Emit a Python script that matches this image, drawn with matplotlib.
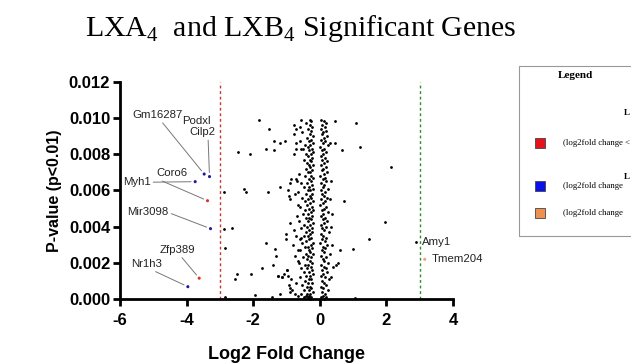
import matplotlib
matplotlib.use("Agg")
import matplotlib.pyplot as plt
from matplotlib.patches import Rectangle

plt.rcParams["font.family"] = ["Liberation Sans", "DejaVu Sans"]
plt.rcParams["mathtext.fontset"] = "custom"
plt.rcParams["mathtext.rm"] = "Liberation Serif"
plt.rcParams["axes.unicode_minus"] = False

# non-significant genes (black)
left_col = [
    (-0.55, 0.0099), (-0.30, 0.0099), (-0.25, 0.0098), (-0.40, 0.0097), (-0.28, 0.0096),
    (-0.58, 0.0095), (-0.22, 0.0095), (-0.35, 0.0094), (-0.27, 0.0093), (-0.52, 0.0092),
    (-0.30, 0.0091), (-0.20, 0.0090), (-0.38, 0.0089), (-0.26, 0.0088), (-0.33, 0.0087),
    (-0.60, 0.0087), (-0.21, 0.0086), (-0.45, 0.0085), (-0.29, 0.0085), (-0.36, 0.0084),
    (-0.24, 0.0083), (-0.50, 0.0083), (-0.31, 0.0082), (-0.19, 0.0081), (-0.42, 0.0080),
    (-0.27, 0.0080), (-0.34, 0.0079), (-0.22, 0.0078), (-0.30, 0.0077), (-0.47, 0.0077),
    (-0.25, 0.0076), (-0.37, 0.0075), (-0.20, 0.0074), (-0.32, 0.0074), (-0.28, 0.0073),
    (-0.40, 0.0072), (-0.23, 0.0071), (-0.35, 0.0070), (-0.29, 0.0070), (-0.62, 0.0069),
    (-0.26, 0.0068), (-0.44, 0.0068), (-0.21, 0.0067), (-0.33, 0.0066), (-0.70, 0.0066),
    (-0.27, 0.0065), (-0.39, 0.0064), (-0.55, 0.0064), (-0.24, 0.0063), (-0.31, 0.0062),
    (-0.48, 0.0062), (-0.20, 0.0061), (-0.36, 0.0060), (-0.28, 0.0060), (-0.65, 0.0059),
    (-0.23, 0.0058), (-0.41, 0.0058), (-0.30, 0.0057), (-0.52, 0.0056), (-0.26, 0.0056),
    (-0.35, 0.0055), (-0.19, 0.0054), (-0.45, 0.0054), (-0.29, 0.0053), (-0.38, 0.0052),
    (-0.24, 0.0051), (-0.58, 0.0051), (-0.32, 0.0050), (-0.21, 0.0049), (-0.43, 0.0049),
    (-0.27, 0.0048), (-0.36, 0.0047), (-0.50, 0.0047), (-0.23, 0.0046), (-0.31, 0.0045),
    (-0.40, 0.0045), (-0.26, 0.0044), (-0.62, 0.0043), (-0.34, 0.0043), (-0.20, 0.0042),
    (-0.46, 0.0041), (-0.29, 0.0041), (-0.37, 0.0040), (-0.24, 0.0039), (-0.55, 0.0039),
    (-0.32, 0.0038), (-0.42, 0.0037), (-0.22, 0.0037), (-0.28, 0.0036), (-0.48, 0.0035),
    (-0.35, 0.0035), (-0.25, 0.0034), (-0.60, 0.0033), (-0.31, 0.0033), (-0.40, 0.0032),
    (-0.21, 0.0031), (-0.52, 0.0031), (-0.27, 0.0030), (-0.36, 0.0029), (-0.45, 0.0029),
    (-0.23, 0.0028), (-0.33, 0.0027), (-0.58, 0.0027), (-0.29, 0.0026), (-0.41, 0.0025),
    (-0.20, 0.0025), (-0.35, 0.0024), (-0.50, 0.0023), (-0.26, 0.0023), (-0.38, 0.0022),
    (-0.30, 0.0021), (-0.65, 0.0021), (-0.22, 0.0020), (-0.44, 0.0019), (-0.34, 0.0019),
    (-0.27, 0.0018), (-0.55, 0.0017), (-0.37, 0.0017), (-0.24, 0.0016), (-0.31, 0.0015),
    (-0.47, 0.0015), (-0.20, 0.0014), (-0.40, 0.0013), (-0.29, 0.0013), (-0.60, 0.0012),
    (-0.33, 0.0011), (-0.25, 0.0011), (-0.43, 0.0010), (-0.36, 0.0009), (-0.22, 0.0009),
    (-0.52, 0.0008), (-0.30, 0.0007), (-0.39, 0.0007), (-0.27, 0.0006), (-0.46, 0.0005),
    (-0.33, 0.0005), (-0.21, 0.0004), (-0.38, 0.0003), (-0.28, 0.0003), (-0.55, 0.0003),
    (-0.42, 0.0002), (-0.32, 0.0002), (-0.25, 0.0001), (-0.36, 0.0001), (-0.30, 0.0000),
    (-0.48, 0.0001),
]
right_col = [
    (0.05, 0.0099), (0.12, 0.0098), (0.20, 0.0097), (0.08, 0.0096), (0.15, 0.0095),
    (0.03, 0.0094), (0.18, 0.0093), (0.10, 0.0092), (0.06, 0.0091), (0.22, 0.0090),
    (0.13, 0.0089), (0.04, 0.0088), (0.17, 0.0087), (0.09, 0.0086), (0.25, 0.0085),
    (0.02, 0.0084), (0.14, 0.0083), (0.07, 0.0082), (0.19, 0.0081), (0.11, 0.0080),
    (0.04, 0.0079), (0.16, 0.0078), (0.08, 0.0077), (0.21, 0.0076), (0.12, 0.0075),
    (0.03, 0.0074), (0.18, 0.0073), (0.10, 0.0072), (0.06, 0.0071), (0.23, 0.0070),
    (0.13, 0.0069), (0.02, 0.0068), (0.16, 0.0067), (0.09, 0.0066), (0.20, 0.0065),
    (0.05, 0.0064), (0.14, 0.0063), (0.11, 0.0062), (0.26, 0.0061), (0.03, 0.0060),
    (0.17, 0.0059), (0.08, 0.0058), (0.12, 0.0057), (0.22, 0.0056), (0.05, 0.0055),
    (0.15, 0.0054), (0.10, 0.0053), (0.02, 0.0052), (0.19, 0.0051), (0.13, 0.0050),
    (0.07, 0.0049), (0.24, 0.0048), (0.11, 0.0047), (0.04, 0.0046), (0.16, 0.0045),
    (0.09, 0.0044), (0.21, 0.0043), (0.13, 0.0042), (0.03, 0.0041), (0.18, 0.0040),
    (0.08, 0.0039), (0.14, 0.0038), (0.27, 0.0037), (0.05, 0.0036), (0.11, 0.0035),
    (0.20, 0.0034), (0.07, 0.0033), (0.15, 0.0032), (0.02, 0.0031), (0.23, 0.0030),
    (0.10, 0.0029), (0.17, 0.0028), (0.06, 0.0027), (0.13, 0.0026), (0.30, 0.0025),
    (0.04, 0.0024), (0.19, 0.0023), (0.09, 0.0022), (0.14, 0.0021), (0.25, 0.0020),
    (0.03, 0.0019), (0.12, 0.0018), (0.18, 0.0017), (0.07, 0.0016), (0.22, 0.0015),
    (0.10, 0.0014), (0.05, 0.0013), (0.16, 0.0012), (0.28, 0.0011), (0.08, 0.0010),
    (0.13, 0.0009), (0.20, 0.0008), (0.03, 0.0007), (0.11, 0.0006), (0.24, 0.0005),
    (0.06, 0.0004), (0.15, 0.0003), (0.09, 0.0002), (0.19, 0.0001), (0.04, 0.0001),
    (0.12, 0.0000),
]
spread = [
    (-0.78, 0.0096), (-0.72, 0.0094), (-0.78, 0.0091), (-0.70, 0.0086), (-0.72, 0.0083),
    (-0.77, 0.0080), (-0.85, 0.0066), (-0.90, 0.0064), (-0.68, 0.0065), (-0.75, 0.0058),
    (-0.88, 0.0055), (-0.66, 0.0052), (-0.68, 0.0046), (-0.89, 0.0042), (-0.78, 0.0038),
    (-1.00, 0.0036), (-1.00, 0.0033), (-0.70, 0.0035), (-0.57, 0.0034), (-0.80, 0.0030),
    (-0.65, 0.0027), (-0.75, 0.0024), (-0.62, 0.0020), (-1.08, 0.0014), (-0.97, 0.0016),
    (-0.95, 0.0013), (-0.86, 0.0011), (-0.92, 0.0008), (-0.88, 0.0006), (-0.90, 0.0004),
    (-0.83, 0.0005), (-0.70, 0.0009), (-0.75, 0.0003), (-0.65, 0.0002), (-1.12, 0.0012),
    (-1.25, 0.0013), (0.37, 0.0047), (0.33, 0.0040), (0.40, 0.0018), (0.48, 0.0019),
    (0.55, 0.0020), (0.32, 0.0086), (0.45, 0.0086), (0.47, 0.0098), (0.35, 0.0065),
    (0.38, 0.0030), (0.33, 0.0012), (0.30, 0.0055),
]
sparse = [
    (-1.83, 0.0099), (-1.52, 0.0094), (-2.46, 0.0081), (-2.09, 0.0080), (-1.61, 0.0083),
    (-1.37, 0.0087), (-1.37, 0.0082), (-1.19, 0.0086), (-1.04, 0.0087), (-2.87, 0.0059),
    (-2.28, 0.0061), (-2.20, 0.0059), (-1.54, 0.0059), (-1.19, 0.0062), (-0.95, 0.0060),
    (-2.87, 0.00386), (-2.65, 0.0039), (-2.85, 0.00284), (-2.86, 0.00014), (-1.62, 0.0031),
    (-1.33, 0.00276), (-1.32, 0.0024), (-1.40, 0.0019), (-1.72, 0.0017), (-2.47, 0.0014),
    (-2.53, 0.0011), (-2.06, 0.0014), (-1.94, 0.00025), (-1.43, 0.00014), (-1.20, 0.00028),
    (-1.25, 0.0013), (-1.12, 0.0012), (-0.97, 0.0016), (-0.93, 0.0057), (-0.55, 0.0083),
    (0.73, 0.0054), (1.95, 0.00424), (1.48, 0.0033), (0.62, 0.0027), (0.99, 0.00275),
    (1.05, 0.00005), (1.09, 0.0097), (0.68, 0.0082), (1.22, 0.0084), (2.13, 0.0073),
    (2.90, 0.00314),
]

# highlighted genes
genes = ["Gm16287", "Cilp2", "Myh1", "Coro6", "Mir3098", "Zfp389", "Nr1h3", "Tmem204"]
gene_x = [-3.47, -3.31, -3.74, -3.37, -3.28, -3.62, -3.96, 3.15]
gene_y = [0.0069, 0.00676, 0.00648, 0.00543, 0.00389, 0.00116, 0.00069, 0.0022]
gene_col = ["#1c1c9c", "#1c1c9c", "#1c1c9c", "#e0302a", "#1c1c9c", "#e0302a", "#1c1c9c", "#f4a070"]

fig = plt.figure(figsize=(6.31, 3.64), dpi=100)
ax = fig.add_axes([0.190, 0.178, 0.528, 0.598])

pts = left_col + right_col + spread + sparse
ax.scatter([p[0] for p in pts], [p[1] for p in pts], s=4, color="black",
           linewidths=0, clip_on=False, zorder=3)
ax.scatter(gene_x, gene_y, s=5, color=gene_col, linewidths=0, clip_on=False, zorder=3)

ax.axvline(-3, color="#c0392b", lw=1, ls=(0, (2, 2)))
ax.axvline(3, color="#2e8b2e", lw=1, ls=(0, (2, 2)))

# labels with leader lines
lab_style = dict(fontsize=8.2, color="#222222")
line = dict(arrowstyle="-", color="#777777", lw=0.7, shrinkA=0, shrinkB=3)
ax.annotate("Gm16287", xy=(-3.47, 0.0069), xytext=(-4.86, 0.01015), ha="center", va="center",
            arrowprops=dict(line, relpos=(0.55, 0)), **lab_style)
ax.text(-3.70, 0.0098, "Podxl", ha="center", va="center", **lab_style)
ax.annotate("Cilp2", xy=(-3.31, 0.00676), xytext=(-3.51, 0.0092), ha="center", va="center",
            arrowprops=dict(line, relpos=(0.7, 0)), **lab_style)
ax.annotate("Myh1", xy=(-3.74, 0.00648), xytext=(-5.50, 0.00645), ha="center", va="center",
            arrowprops=dict(line, relpos=(1, 0.5)), **lab_style)
ax.annotate("Coro6", xy=(-3.37, 0.00543), xytext=(-4.45, 0.00694), ha="center", va="center",
            arrowprops=dict(line, relpos=(0.0, 0)), **lab_style)
ax.annotate("Mir3098", xy=(-3.28, 0.00389), xytext=(-5.16, 0.00483), ha="center", va="center",
            arrowprops=dict(line, relpos=(1, 0.4)), **lab_style)
ax.annotate("Zfp389", xy=(-3.62, 0.00116), xytext=(-4.26, 0.00272), ha="center", va="center",
            arrowprops=dict(line, relpos=(0.55, 0)), **lab_style)
ax.annotate("Nr1h3", xy=(-3.96, 0.00069), xytext=(-5.20, 0.00195), ha="center", va="center",
            arrowprops=dict(line, relpos=(0.6, 0)), **lab_style)
ax.text(3.06, 0.00316, "Amy1", ha="left", va="center", **lab_style)
ax.text(3.36, 0.0022, "Tmem204", ha="left", va="center", **lab_style)

ax.set_xlim(-6, 4)
ax.set_ylim(0, 0.012)
ax.set_xticks([-6, -4, -2, 0, 2, 4])
ax.set_yticks([0, 0.002, 0.004, 0.006, 0.008, 0.010, 0.012])
ax.set_yticklabels([f"{v:.3f}" for v in ax.get_yticks()])
for s in ["top", "right"]:
    ax.spines[s].set_visible(False)
for s in ["left", "bottom"]:
    ax.spines[s].set_linewidth(2)
ax.tick_params(width=2, length=5, labelsize=12)
ax.tick_params(axis="x", pad=5)
ax.tick_params(axis="y", pad=2)
for t in ax.get_xticklabels() + ax.get_yticklabels():
    t.set_fontweight("bold")
ax.set_xlabel("Log2 Fold Change", fontsize=13, fontweight="bold", labelpad=13)
ax.set_ylabel("P-value (p<0.01)", fontsize=11.5, fontweight="bold", labelpad=5)

fig.text(0.477, 0.923, r"LXA$_4$  and LXB$_4$ Significant Genes", ha="center", va="center",
         fontsize=21.5, family="Liberation Serif")

# legend box (cut off at right edge in the original)
fig.patches.append(Rectangle((519 / 631, 1 - 236 / 364), 0.3, 170 / 364, transform=fig.transFigure,
                             fill=False, edgecolor="#999999", lw=0.8))
serif = dict(family="Liberation Serif", transform=fig.transFigure)
fig.text(575 / 631, 1 - 76 / 364, "Legend", ha="center", va="center", fontsize=8,
         fontweight="bold", **serif)
fig.text(624 / 631, 1 - 113 / 364, "L", ha="left", va="center", fontsize=6.5,
         fontweight="bold", **serif)
fig.text(624 / 631, 1 - 177 / 364, "L", ha="left", va="center", fontsize=6.5,
         fontweight="bold", **serif)
legend_y = [143, 186, 213]
legend_col = ["#e8101a", "#0a10e8", "#ee9050"]
legend_txt = ["(log2fold change <", "(log2fold change", "(log2fold change"]
for yy, cc, tt in zip(legend_y, legend_col, legend_txt):
    fig.patches.append(Rectangle((535 / 631, 1 - (yy + 5) / 364), 10 / 631, 10 / 364,
                                 transform=fig.transFigure, facecolor=cc,
                                 edgecolor="#444444", lw=0.6))
    fig.text(563 / 631, 1 - yy / 364, tt, ha="left", va="center", fontsize=6.3, **serif)

fig.savefig("out.png", dpi=100)
